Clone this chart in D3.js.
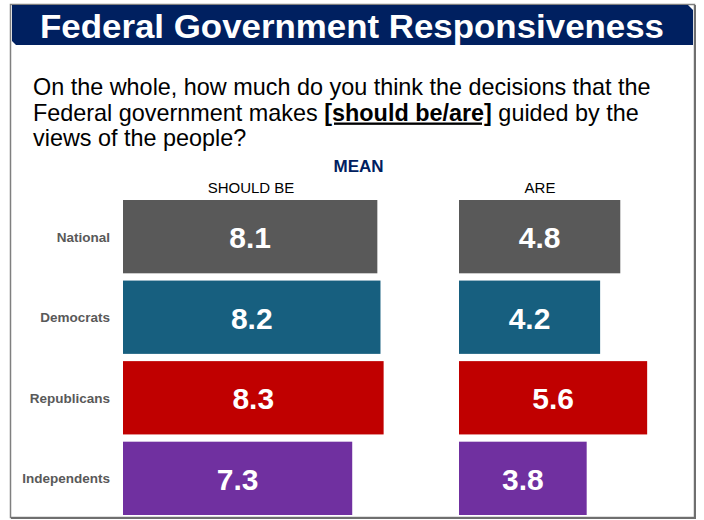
<!DOCTYPE html>
<html><head><meta charset="utf-8">
<script src="https://cdn.jsdelivr.net/npm/d3@7"></script>
<style>body{margin:0;background:#fff}svg{display:block;font-family:"Liberation Sans",Arial,sans-serif}</style>
</head><body>
<svg id="c" width="704" height="520"></svg>
<script>
const categories = ["National", "Democrats", "Republicans", "Independents"];
const shouldBe = [8.1, 8.2, 8.3, 7.3];
const are = [4.8, 4.2, 5.6, 3.8];
const colors = ["#595959", "#175f7f", "#c00000", "#7030a0"];
const columns = ["SHOULD BE", "ARE"];

const svg = d3.select("#c");

// frame
svg.append("rect").attr("x", 10.5).attr("y", 4.5).attr("width", 684).attr("height", 513)
  .attr("fill", "#fff").attr("stroke", "#7f7f7f").attr("stroke-width", 1.5);
svg.append("line").attr("x1", 695).attr("x2", 695).attr("y1", 5).attr("y2", 518).attr("stroke", "#6f6f6f").attr("stroke-width", 2);
svg.append("line").attr("x1", 11).attr("x2", 696).attr("y1", 518).attr("y2", 518).attr("stroke", "#6f6f6f").attr("stroke-width", 2);

// title bar
svg.append("path").attr("d", "M12,5 L688,5 L693,10 L693,45 L16,45 L12,41 Z").attr("fill", "#002060");
svg.append("text").attr("x", 352).attr("y", 38).attr("text-anchor", "middle")
  .attr("fill", "#fff").attr("font-weight", "bold").attr("font-size", 34)
  .attr("textLength", 624).attr("lengthAdjust", "spacingAndGlyphs")
  .text("Federal Government Responsiveness");

// question
const q = svg.append("text").attr("font-size", 23.4).attr("fill", "#000");
q.append("tspan").attr("x", 33).attr("y", 95).text("On the whole, how much do you think the decisions that the");
const l2 = q.append("tspan").attr("x", 33).attr("y", 120.5);
l2.append("tspan").text("Federal government makes ");
l2.append("tspan").attr("font-weight", "bold").attr("text-decoration", "underline").text("[should be/are]");
l2.append("tspan").text(" guided by the");
q.append("tspan").attr("x", 33).attr("y", 146).text("views of the people?");

svg.append("text").attr("x", 358.5).attr("y", 172).attr("text-anchor", "middle")
  .attr("font-weight", "bold").attr("font-size", 17).attr("fill", "#002060").text("MEAN");

// scales
const y = d3.scaleBand().domain(categories).range([200, 515]).paddingInner(0.09).paddingOuter(0);
const xS = d3.scaleLinear().domain([0, 10]).range([123, 437]);
const xA = d3.scaleLinear().domain([0, 10]).range([459, 795]);

svg.append("text").attr("x", 251).attr("y", 193).attr("text-anchor", "middle").attr("font-size", 15).text(columns[0]);
svg.append("text").attr("x", 540).attr("y", 193).attr("text-anchor", "middle").attr("font-size", 15).text(columns[1]);

// category labels
svg.selectAll("text.cat").data(categories).join("text").attr("class", "cat")
  .attr("x", 110).attr("y", d => y(d) + y.bandwidth() / 2 + 5)
  .attr("text-anchor", "end").attr("font-weight", "bold").attr("font-size", 13.5).attr("fill", "#595959")
  .text(d => d);

function panel(vals, x) {
  const g = svg.append("g");
  g.selectAll("rect").data(vals).join("rect")
    .attr("x", x(0)).attr("y", (d, i) => y(categories[i]))
    .attr("width", d => x(d) - x(0)).attr("height", y.bandwidth())
    .attr("fill", (d, i) => colors[i]);
  g.selectAll("text").data(vals).join("text")
    .attr("x", d => (x(0) + x(d)) / 2).attr("y", (d, i) => y(categories[i]) + y.bandwidth() / 2 + 11.5)
    .attr("text-anchor", "middle").attr("fill", "#fff").attr("font-weight", "bold").attr("font-size", 30)
    .text(d => d.toFixed(1));
}
panel(shouldBe, xS);
panel(are, xA);
</script>
</body></html>
